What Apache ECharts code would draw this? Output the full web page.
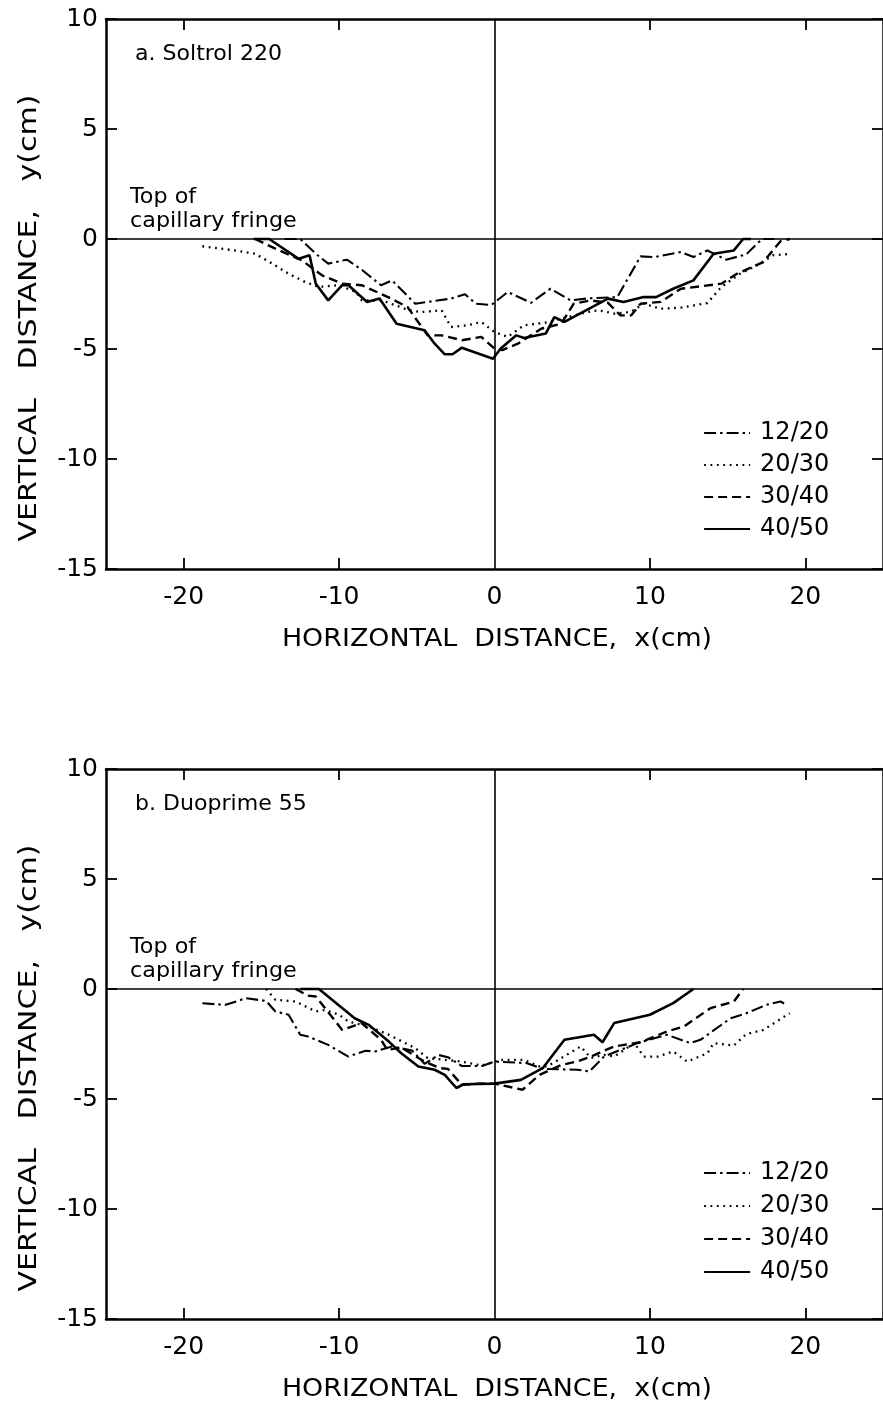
<!DOCTYPE html>
<html><head><meta charset="utf-8">
<script src="https://cdn.jsdelivr.net/npm/echarts@6/dist/echarts.min.js"></script>
<style>html,body{margin:0;padding:0;background:#fff}#c{width:883px;height:1401px}</style>
</head><body><div id="c"></div>
<script>
// ---------- data ----------
const seriesNames = ['12/20', '20/30', '30/40', '40/50'];
const xTickValues = [-20, -10, 0, 10, 20];
const xTickMarks = [-20, -10, 10, 20];
const panelLabels = ['a. Soltrol 220', 'b. Duoprime 55'];
const fringeLine1 = 'Top of';
const fringeLine2 = 'capillary fringe';
const xTitle = 'HORIZONTAL  DISTANCE,  x(cm)';
const yTitle = 'VERTICAL   DISTANCE,   y(cm)';

// Panel a: Soltrol 220
const a_12_20 = [[-13.5,0],[-12.5,0],[-11.5,-0.67],[-10.7,-1.12],[-9.5,-0.94],[-8.5,-1.42],[-7.3,-2.1],[-6.6,-1.88],[-5.1,-2.94],[-4.3,-2.86],[-2.8,-2.71],[-1.9,-2.51],[-1.2,-2.94],[-0.2,-3.0],[0.85,-2.41],[2.35,-2.9],[3.6,-2.26],[4.9,-2.79],[6.0,-2.7],[7.9,-2.64],[9.4,-0.79],[10.3,-0.82],[12.0,-0.59],[12.8,-0.82],[13.7,-0.52],[14.9,-0.94],[16.2,-0.7],[17.0,-0.14],[17.3,0],[18.0,0]];
const a_20_30 = [[-18.8,-0.33],[-16.7,-0.52],[-15.4,-0.67],[-14.3,-1.12],[-13.25,-1.58],[-12.2,-1.95],[-11.3,-2.18],[-10.05,-2.1],[-8.9,-2.41],[-8.55,-2.79],[-7.2,-2.8],[-5.5,-3.24],[-4.7,-3.32],[-3.4,-3.24],[-2.8,-4.0],[-1.7,-3.92],[-0.85,-3.77],[0,-4.23],[0.85,-4.45],[1.9,-3.92],[3.3,-3.8],[4.7,-3.55],[5.95,-3.32],[6.7,-3.24],[7.7,-3.39],[8.75,-3.32],[9.6,-2.94],[10.7,-3.17],[12.0,-3.12],[13.7,-2.91],[14.6,-2.18],[15.8,-1.58],[17.1,-1.12],[17.9,-0.74],[19.1,-0.67]];
const a_30_40 = [[-15.4,0],[-14.1,-0.44],[-12.4,-0.97],[-11.1,-1.65],[-9.8,-2.03],[-8.55,-2.1],[-6.85,-2.64],[-5.6,-3.09],[-4.3,-4.38],[-3.4,-4.38],[-2.1,-4.6],[-0.85,-4.45],[0,-4.98],[0.5,-5.05],[1.5,-4.76],[3.0,-4.08],[4.3,-3.85],[5.1,-2.94],[6.2,-2.79],[7.3,-2.9],[8.1,-3.47],[8.8,-3.47],[9.4,-2.94],[10.7,-2.86],[12.0,-2.26],[14.6,-2.03],[15.6,-1.58],[17.3,-1.05],[18.4,-0.1],[19.0,0]];
const a_40_50 = [[-15.5,0],[-14.5,0],[-12.6,-0.9],[-11.9,-0.74],[-11.5,-2.03],[-10.7,-2.79],[-9.8,-2.1],[-9.4,-2.1],[-8.2,-2.86],[-7.4,-2.7],[-6.3,-3.85],[-4.5,-4.15],[-3.85,-4.76],[-3.2,-5.24],[-2.7,-5.24],[-2.1,-4.94],[-0.1,-5.44],[0.4,-4.98],[1.4,-4.38],[1.9,-4.5],[3.3,-4.3],[3.85,-3.55],[4.5,-3.77],[7.3,-2.71],[8.3,-2.86],[9.6,-2.64],[10.4,-2.64],[11.5,-2.26],[12.8,-1.88],[14.1,-0.67],[15.4,-0.52],[16.0,0],[16.5,0]];

// Panel b: Duoprime 55
const b_12_20 = [[-18.8,-0.65],[-17.3,-0.72],[-16.0,-0.42],[-14.7,-0.54],[-14.1,-1.02],[-13.25,-1.17],[-12.5,-2.08],[-12.0,-2.16],[-10.7,-2.54],[-9.4,-3.07],[-8.3,-2.81],[-7.7,-2.84],[-6.6,-2.61],[-5.3,-2.8],[-4.5,-3.4],[-3.6,-3.0],[-3.0,-3.1],[-2.1,-3.5],[-0.8,-3.5],[0,-3.3],[2.1,-3.37],[3.1,-3.63],[5.35,-3.67],[6.1,-3.75],[7.05,-3.07],[9.2,-2.46],[11.1,-2.08],[12.6,-2.46],[13.25,-2.31],[15.2,-1.33],[16.2,-1.1],[17.5,-0.72],[18.4,-0.57],[18.8,-0.72]];
const b_20_30 = [[-14.7,0],[-14.1,-0.49],[-12.8,-0.57],[-11.5,-1.02],[-10.9,-0.95],[-10.0,-1.17],[-9.4,-1.48],[-8.1,-1.7],[-6.8,-2.08],[-5.1,-2.69],[-4.3,-3.14],[-2.1,-3.3],[-0.85,-3.48],[0.4,-3.22],[1.9,-3.22],[2.9,-3.52],[3.4,-3.52],[5.55,-2.61],[6.2,-3.14],[7.05,-2.99],[7.7,-3.07],[9.0,-2.46],[9.6,-3.07],[10.5,-3.07],[11.5,-2.84],[12.4,-3.3],[13.7,-2.92],[14.1,-2.46],[15.4,-2.57],[16.2,-2.05],[17.3,-1.86],[19.0,-1.1]];
const b_30_40 = [[-12.8,0],[-12.0,-0.3],[-11.5,-0.34],[-9.8,-1.86],[-8.55,-1.55],[-7.3,-2.31],[-6.9,-2.77],[-6.0,-2.66],[-4.5,-3.3],[-3.5,-3.6],[-3.0,-3.63],[-2.1,-4.36],[-1.0,-4.3],[0,-4.3],[1.8,-4.58],[2.9,-3.9],[4.3,-3.45],[5.3,-3.3],[6.2,-3.07],[7.7,-2.61],[9.4,-2.42],[11.1,-1.93],[12.2,-1.7],[13.9,-0.87],[15.4,-0.57],[16.0,0]];
const b_40_50 = [[-12.5,0],[-11.3,0],[-9.0,-1.33],[-8.1,-1.63],[-6.8,-2.39],[-6.0,-2.92],[-4.9,-3.52],[-3.85,-3.67],[-3.2,-3.9],[-2.45,-4.5],[-2.0,-4.33],[0,-4.3],[1.7,-4.13],[3.1,-3.6],[4.5,-2.31],[6.4,-2.08],[6.95,-2.42],[7.7,-1.55],[10.0,-1.17],[11.5,-0.64],[12.8,0]];

// ---------- styling ----------
const FONT = 'DejaVu Sans';
const lineStyles = [
  { type: [12, 4, 2.5, 4], width: 2.1 },
  { type: [1.8, 4.6], width: 2.3 },
  { type: [9, 5], width: 2.4 },
  { type: 'solid', width: 2.6 }
];
const panelData = [[a_12_20, a_20_30, a_30_40, a_40_50], [b_12_20, b_20_30, b_30_40, b_40_50]];
const grids = [
  { left: 106, top: 19, width: 780, height: 550 },
  { left: 106, top: 769, width: 780, height: 550 }
];

const axisLineStyle = { color: '#000', width: 2.5 };
const tickStyle = { color: '#000', width: 1.8 };
const xAxes = [], yAxes = [], series = [];
grids.forEach((g, gi) => {
  ['bottom', 'top'].forEach(pos => {
    xAxes.push({
      gridIndex: gi, type: 'value', min: -25, max: 25, position: pos,
      axisLine: { show: true, onZero: false, lineStyle: axisLineStyle },
      axisTick: { show: true, inside: true, length: 11, customValues: xTickMarks, lineStyle: tickStyle },
      axisLabel: pos === 'bottom'
        ? { show: true, customValues: xTickValues, margin: 16, fontSize: 25, fontFamily: FONT, color: '#000' }
        : { show: false },
      splitLine: { show: false }
    });
  });
  ['left', 'right'].forEach(pos => {
    yAxes.push({
      gridIndex: gi, type: 'value', min: -15, max: 10, interval: 5, position: pos,
      axisLine: { show: true, onZero: false, lineStyle: axisLineStyle },
      axisTick: { show: true, inside: true, length: 11, lineStyle: tickStyle },
      axisLabel: pos === 'left'
        ? { show: true, margin: 8, fontSize: 25, fontFamily: FONT, color: '#000' }
        : { show: false },
      splitLine: { show: false }
    });
  });
  panelData[gi].forEach((d, si) => {
    const s = {
      name: seriesNames[si], type: 'line', data: d,
      xAxisIndex: gi * 2, yAxisIndex: gi * 2,
      symbol: 'none', showSymbol: false, smooth: false, animation: false,
      lineStyle: Object.assign({ color: '#000' }, lineStyles[si]),
      itemStyle: { color: '#000' },
      emphasis: { disabled: true }, silent: true
    };
    if (si === 3) {
      s.markLine = {
        silent: true, symbol: ['none', 'none'], animation: false,
        label: { show: false },
        lineStyle: { color: '#000', width: 1.6, type: 'solid' },
        emphasis: { disabled: true },
        data: [{ xAxis: 0 }, { yAxis: 0 }]
      };
    }
    series.push(s);
  });
});

const legends = [[416, 8], [1156, 9]].map(([top, gap]) => ({
  left: 698, top: top, orient: 'vertical', itemGap: gap, itemWidth: 46, itemHeight: 18,
  selectedMode: false, data: seriesNames,
  itemStyle: { opacity: 0 },
  lineStyle: { width: 2.2 },
  textStyle: { fontSize: 24, fontFamily: FONT, color: '#000', padding: [0, 0, 0, 5] }
}));

function txt(x, y, text, size, opts) {
  return Object.assign({
    type: 'text', x: x, y: y, silent: true,
    style: { text: text, font: size + 'px "' + FONT + '"', fill: '#000', align: 'left', verticalAlign: 'middle' }
  }, opts || {});
}
const graphics = [];
[0, 750].forEach((dy, gi) => {
  graphics.push(txt(135, 55 + dy, panelLabels[gi], 21, { scaleX: 1.05 }));
  graphics.push(txt(130, 198 + dy, fringeLine1, 21, { scaleX: 1.06 }));
  graphics.push(txt(130, 222 + dy, fringeLine2, 21, { scaleX: 1.06 }));
  const xt = txt(497, 640 + dy, xTitle, 24, { scaleX: 1.12 });
  xt.style.align = 'center';
  graphics.push(xt);
  const yt = txt(30, 318 + dy, yTitle, 24, { scaleX: 1.25, rotation: Math.PI / 2 });
  yt.style.align = 'center';
  graphics.push(yt);
});

const chart = echarts.init(document.getElementById('c'), null, { renderer: 'canvas' });
chart.setOption({
  animation: false,
  backgroundColor: '#fff',
  grid: grids,
  xAxis: xAxes,
  yAxis: yAxes,
  legend: legends,
  series: series,
  graphic: graphics
});
</script>
</body></html>
